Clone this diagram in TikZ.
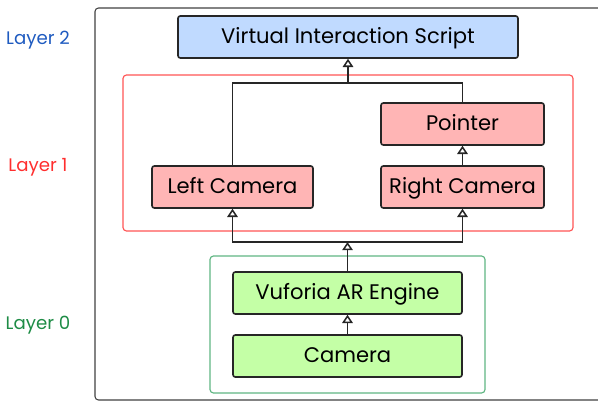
\documentclass[tikz,border=0pt]{standalone}
\usepackage{fontspec}
\setmainfont{Poppins}
\usepackage{xcolor}
\usepackage{tikz}
\usetikzlibrary{arrows.meta, positioning}

\definecolor{scriptblue}{HTML}{C0DAFF}
\definecolor{camred}{HTML}{FFB5B5}
\definecolor{enginegreen}{HTML}{C4FFA6}
\definecolor{groupred}{HTML}{FF5555}
\definecolor{groupgreen}{HTML}{5FB582}
\definecolor{labelblue}{HTML}{1F5BC0}
\definecolor{labelred}{HTML}{FF2E2E}
\definecolor{labelgreen}{HTML}{1E8C46}

\tikzset{
  box/.style={draw=black!85, line width=1.4pt, rounded corners=2pt,
    minimum height=1.26cm, inner sep=0pt, text height=2ex, text depth=0pt,
    font=\fontsize{18}{20}\selectfont},
  group/.style={line width=1pt, rounded corners=3pt},
  layerlabel/.style={font=\fontsize{15.5}{18}\selectfont, inner sep=0pt,
    text height=2ex, text depth=0pt},
  link/.style={draw=black!85, line width=1.3pt},
  uses/.style={link, -{Triangle[open, length=7pt, width=9pt]}}
}

\begin{document}
\begin{tikzpicture}[x=0.03cm, y=-0.03cm]
        \useasboundingbox (0,0) rectangle (598,401);

        % Outer frame and layer groups
        \draw[line width=0.9pt, black!75, rounded corners=3pt] (95,8) rectangle (640,400);
        \draw[group, groupred] (123,75) rectangle (573,231);
        \draw[group, groupgreen] (210,256) rectangle (485,393);

        % Layer labels
        \node[layerlabel, text=labelblue] (layer2) at (38,38) {Layer 2};
        \node[layerlabel, text=labelred] (layer1) at (38,165) {Layer 1};
        \node[layerlabel, text=labelgreen] (layer0) at (38,323) {Layer 0};

        % Layer 2
        \node[box, fill=scriptblue, minimum width=10.2cm] (script) at (348,37) {Virtual Interaction Script};

        % Layer 1
        \node[box, fill=camred, minimum width=4.89cm] (pointer) at (462.5,124) {Pointer};
        \node[box, fill=camred, minimum width=4.89cm] (rightcam) at (462.5,187) {Right Camera};
        \node[box, fill=camred, minimum width=4.83cm] (leftcam) at (232.5,187) {Left Camera};

        % Layer 0
        \node[box, fill=enginegreen, minimum width=6.87cm] (vuforia) at (347.5,293) {Vuforia AR Engine};
        \node[box, fill=enginegreen, minimum width=6.87cm] (camera) at (347.5,356) {Camera};

        % Connectors
        \coordinate (topbus) at (348,83);
        \coordinate (lowbus) at (347.5,242);
        \draw[link] (leftcam.north) |- (topbus) -| (pointer.north);
        \draw[uses] (topbus) -- (script.south);
        \draw[uses] (rightcam.north) -- (pointer.south);
        \draw[uses] (camera.north) -- (vuforia.south);
        \draw[uses] (vuforia.north) -- (lowbus);
        \draw[uses] (lowbus) -| (leftcam.south);
        \draw[uses] (lowbus) -| (rightcam.south);

    \end{tikzpicture}
\end{document}
